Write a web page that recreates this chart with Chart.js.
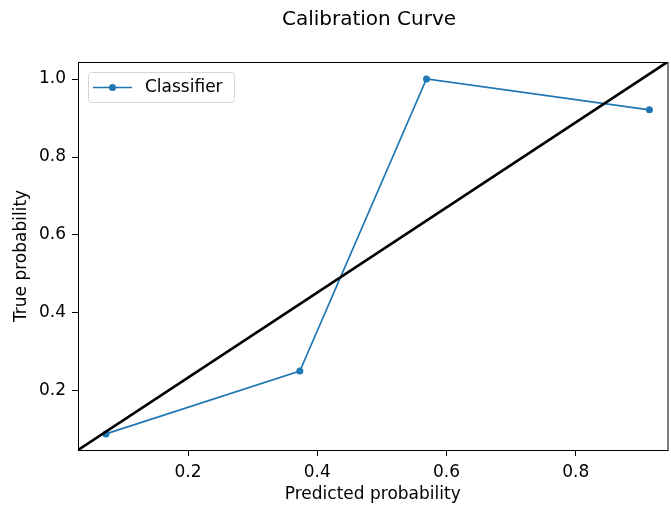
<!DOCTYPE html>
<html>
<head>
<meta charset="utf-8">
<script src="https://cdn.jsdelivr.net/npm/chart.js@4.4.0/dist/chart.umd.min.js"></script>
<style>
  html, body { margin: 0; padding: 0; background: #fff; overflow: hidden; }
  #wrap { width: 671px; height: 505px; position: relative; }
</style>
</head>
<body>
<div id="wrap"><canvas id="calChart"></canvas></div>
<script>
// calibration data
const predicted = [0.073, 0.373, 0.569, 0.914];
const trueProb = [0.090, 0.251, 1.0, 0.921];
const xTicks = [0.2, 0.4, 0.6, 0.8];
const yTicks = [0.2, 0.4, 0.6, 0.8, 1.0];
const xRange = [0.0297, 0.942];
const yRange = [0.0487, 1.0436];

const FONT = "'DejaVu Sans', sans-serif";
const BLUE = '#1f77b4';

// title, frame and legend box (matplotlib style)
const decorations = {
    id: 'decorations',
    afterDraw(chart) {
        const ctx = chart.ctx;
        const area = chart.chartArea;
        ctx.save();
        ctx.strokeStyle = '#000';
        ctx.lineWidth = 1;
        ctx.strokeRect(area.left + 0.5, area.top + 0.5, area.right - area.left, area.bottom - area.top);

        ctx.fillStyle = '#000';
        ctx.font = '20px ' + FONT;
        ctx.textAlign = 'center';
        ctx.textBaseline = 'middle';
        ctx.fillText('Calibration Curve', 369, 20);

        // legend
        const bx = 88, by = 72, bw = 146, bh = 30;
        ctx.beginPath();
        ctx.roundRect(bx + 0.5, by + 0.5, bw, bh, 3);
        ctx.fillStyle = 'rgba(255,255,255,0.8)';
        ctx.fill();
        ctx.strokeStyle = '#d6d6d6';
        ctx.stroke();
        const cy = by + bh / 2 + 0.5;
        ctx.strokeStyle = BLUE;
        ctx.lineWidth = 1.7;
        ctx.beginPath();
        ctx.moveTo(93, cy);
        ctx.lineTo(132, cy);
        ctx.stroke();
        ctx.fillStyle = BLUE;
        ctx.beginPath();
        ctx.arc(112.5, cy, 3.5, 0, Math.PI * 2);
        ctx.fill();
        ctx.fillStyle = '#000';
        ctx.font = '17px ' + FONT;
        ctx.textAlign = 'left';
        ctx.fillText(chart.data.datasets[0].label, 145, cy);
        ctx.restore();
    }
};

const ctx = document.getElementById('calChart').getContext('2d');

new Chart(ctx, {
    type: 'line',
    data: {
        datasets: [
            {
                label: 'Classifier',
                data: predicted.map((x, i) => ({ x: x, y: trueProb[i] })),
                borderColor: BLUE,
                backgroundColor: BLUE,
                borderWidth: 1.7,
                pointRadius: 3.5,
                pointHoverRadius: 3.5,
                pointBorderWidth: 0,
                tension: 0,
                order: 1
            },
            {
                label: 'Perfect',
                // diagonal from corner to corner of the axes
                data: [{ x: xRange[0], y: yRange[0] }, { x: xRange[1], y: yRange[1] }],
                borderColor: '#000',
                borderWidth: 2.7,
                pointRadius: 0,
                tension: 0,
                order: 0
            }
        ]
    },
    options: {
        responsive: true,
        maintainAspectRatio: false,
        animation: false,
        layout: { padding: { top: 62, right: 1, left: 0, bottom: 0 } },
        plugins: {
            legend: { display: false },
            tooltip: { enabled: false }
        },
        scales: {
            x: {
                type: 'linear',
                min: xRange[0],
                max: xRange[1],
                afterBuildTicks: function(scale) {
                    scale.ticks = xTicks.map(v => ({ value: v }));
                },
                afterFit: function(scale) { scale.height = 55; },
                grid: {
                    drawOnChartArea: false,
                    drawTicks: true,
                    tickLength: 6,
                    color: '#000'
                },
                border: { display: false },
                ticks: {
                    color: '#000',
                    padding: 6,
                    maxRotation: 0,
                    font: { family: FONT, size: 17 },
                    callback: v => v.toFixed(1)
                },
                title: {
                    display: true,
                    text: 'Predicted probability',
                    color: '#000',
                    padding: { top: 0, bottom: 0 },
                    font: { family: FONT, size: 17 }
                }
            },
            y: {
                type: 'linear',
                min: yRange[0],
                max: yRange[1],
                afterBuildTicks: function(scale) {
                    scale.ticks = yTicks.map(v => ({ value: v }));
                },
                afterFit: function(scale) { scale.width = 78; },
                grid: {
                    drawOnChartArea: false,
                    drawTicks: true,
                    tickLength: 6,
                    color: '#000'
                },
                border: { display: false },
                ticks: {
                    color: '#000',
                    padding: 6,
                    font: { family: FONT, size: 17 },
                    callback: v => v.toFixed(1)
                },
                title: {
                    display: true,
                    text: 'True probability',
                    color: '#000',
                    padding: { top: 11, bottom: 0 },
                    font: { family: FONT, size: 17 }
                }
            }
        }
    },
    plugins: [decorations]
});
</script>
</body>
</html>
